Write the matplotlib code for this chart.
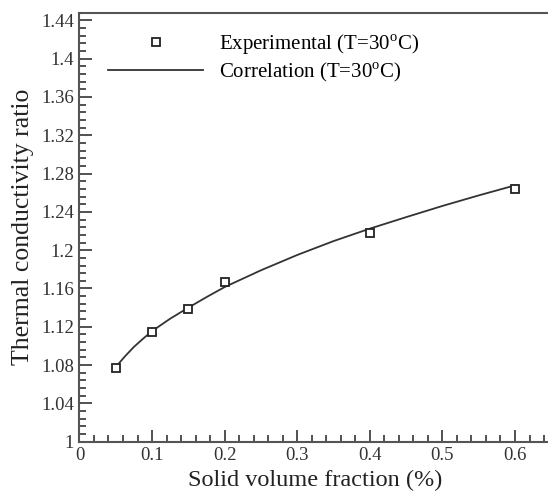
import matplotlib
matplotlib.use('Agg')
import matplotlib.pyplot as plt
from matplotlib.ticker import MultipleLocator

plt.rcParams['font.family'] = 'Liberation Serif'
plt.rcParams['mathtext.fontset'] = 'custom'
plt.rcParams['mathtext.rm'] = 'Liberation Serif'

# experimental points
phi_exp = [0.05, 0.1, 0.15, 0.2, 0.4, 0.6]
k_exp = [1.077, 1.115, 1.139, 1.167, 1.218, 1.264]

# correlation curve
phi_cor = [0.05, 0.0625, 0.075, 0.0875, 0.1, 0.125, 0.15, 0.175, 0.2, 0.25,
           0.3, 0.35, 0.4, 0.45, 0.5, 0.55, 0.6]
k_cor = [1.078, 1.089, 1.099, 1.1075, 1.1155, 1.1285, 1.140, 1.151, 1.1615,
         1.179, 1.195, 1.2095, 1.2225, 1.2345, 1.2462, 1.2572, 1.2677]

fig = plt.figure(figsize=(5.48, 4.92), dpi=100)
ax = fig.add_axes([0.145, 0.1022, 0.861, 0.872])

ax.plot(phi_exp, k_exp, linestyle='none', marker='s', markersize=5.5,
        markerfacecolor='white', markeredgecolor='#222222', markeredgewidth=1.3,
        label='Experimental (T=30$^{\\mathrm{o}}$C)', zorder=3)
ax.plot(phi_cor, k_cor, '-', color='#333333', linewidth=1.3,
        label='Correlation (T=30$^{\\mathrm{o}}$C)')

ax.set_xlim(0, 0.65)
ax.set_ylim(1, 1.448)
ax.xaxis.set_minor_locator(MultipleLocator(0.02))
ax.yaxis.set_minor_locator(MultipleLocator(0.008))
ax.set_xticks([0, 0.1, 0.2, 0.3, 0.4, 0.5, 0.6])
ax.set_xticklabels(['0', '0.1', '0.2', '0.3', '0.4', '0.5', '0.6'])
yt = [1, 1.04, 1.08, 1.12, 1.16, 1.2, 1.24, 1.28, 1.32, 1.36, 1.4, 1.44]
ax.set_yticks(yt)
ax.set_yticklabels(['1', '1.04', '1.08', '1.12', '1.16', '1.2', '1.24', '1.28',
                    '1.32', '1.36', '1.4', '1.44'])

ax.tick_params(which='both', direction='in', top=False, right=False,
               labelsize=13.5, colors='#333333', width=1.2)
ax.tick_params(which='major', length=9, pad=4)
ax.tick_params(which='minor', length=5)
for s in ax.spines.values():
    s.set_linewidth(1.5)
    s.set_color('#555555')

ax.set_xlabel('Solid volume fraction (%)', fontsize=17.5, color='#222222', labelpad=4)
ax.set_ylabel('Thermal conductivity ratio', fontsize=18.5, color='#222222', labelpad=5)

ax.legend(loc='upper left', bbox_to_anchor=(0.02, 0.998), frameon=False,
          fontsize=15, handlelength=4.6, handletextpad=0.75, labelspacing=0.2)

fig.savefig('out.png', dpi=100)
